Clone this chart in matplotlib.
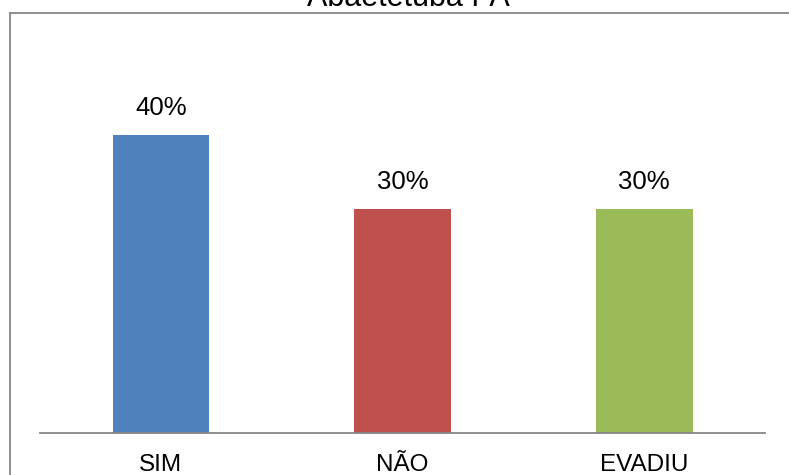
import matplotlib.pyplot as plt
from matplotlib.lines import Line2D

categorias = ['SIM', 'NÃO', 'EVADIU']
valores = [40, 30, 30]
rotulos = ['40%', '30%', '30%']
cores = ['#4F81BD', '#C0504D', '#9BBB59']
titulo = 'Abaetetuba PA'

plt.rcParams['font.family'] = ['Liberation Sans', 'DejaVu Sans']

fig = plt.figure(figsize=(7.89, 4.75), dpi=100)
W, H = 789, 475

# moldura do gráfico (cortada em cima/direita/embaixo)
fig.add_artist(Line2D([10 / W, 10 / W], [0, 1 - 13 / H], transform=fig.transFigure,
                      color='#868686', lw=1.3))
fig.add_artist(Line2D([10 / W, 1], [1 - 13 / H, 1 - 13 / H], transform=fig.transFigure,
                      color='#868686', lw=1.3))

# título cortado na borda superior, como no original
fig.text(408 / W, 1 - 6 / H, titulo, ha='center', va='baseline', fontsize=22)

ax = fig.add_axes([40 / W, 42 / H, 725 / W, 373 / H])
x = range(len(categorias))
ax.bar(x, valores, width=0.4, color=cores)
for xi, v, r in zip(x, valores, rotulos):
    ax.text(xi, v + 2.0, r, ha='center', va='bottom', fontsize=18.5)

ax.set_xlim(-0.5, 2.5)
ax.set_ylim(0, 50)
ax.set_xticks(list(x))
ax.set_xticklabels(categorias, fontsize=17.5)
ax.tick_params(axis='x', length=0, pad=15)
ax.set_yticks([])
for s in ['top', 'right', 'left']:
    ax.spines[s].set_visible(False)
ax.spines['bottom'].set_color('#868686')
ax.spines['bottom'].set_linewidth(1.3)
ax.patch.set_alpha(0)

fig.savefig('out.png', dpi=100)
